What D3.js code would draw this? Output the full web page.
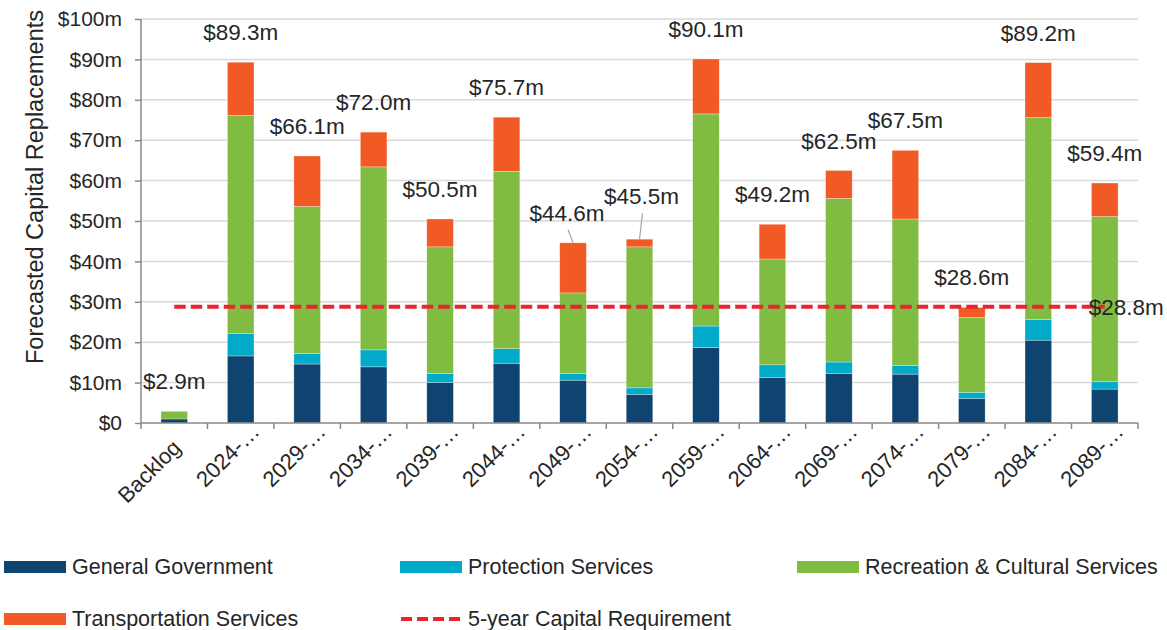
<!DOCTYPE html>
<html>
<head>
    <title>Forecasted Capital Replacements</title>
    <meta charset="utf-8" />
    <style>
        body { margin: 0; background: #fff; }
        text { font-family: "Liberation Sans", Arial, sans-serif; fill: #262626; }
        .grid line { stroke: #d9d9d9; stroke-width: 1.5px; }
        .axis path, .axis line { stroke: #898989; stroke-width: 1.5px; }
    </style>
</head>
<body>
<script src="https://cdn.jsdelivr.net/npm/d3@7"></script>
<script>
// chart values
var categories = ["Backlog", "2024-\u2026", "2029-\u2026", "2034-\u2026", "2039-\u2026", "2044-\u2026", "2049-\u2026",
    "2054-\u2026", "2059-\u2026", "2064-\u2026", "2069-\u2026", "2074-\u2026", "2079-\u2026", "2084-\u2026", "2089-\u2026"];
var generalGovernment      = [1.0, 16.6, 14.6, 13.9, 10.0, 14.8, 10.6, 7.1, 18.7, 11.3, 12.3, 12.1, 6.1, 20.5, 8.4];
var protectionServices     = [0.0, 5.5, 2.6, 4.2, 2.3, 3.6, 1.6, 1.6, 5.3, 3.1, 2.8, 2.1, 1.5, 5.1, 1.8];
var recreationServices     = [1.9, 54.0, 36.4, 45.3, 31.3, 43.9, 20.0, 34.9, 52.5, 26.2, 40.5, 36.3, 18.5, 50.0, 40.9];
var transportationServices = [0.0, 13.2, 12.5, 8.6, 6.9, 13.4, 12.4, 1.9, 13.6, 8.6, 6.9, 17.0, 2.5, 13.6, 8.3];
var capitalRequirement = 28.8;
var yTicks = [0, 10, 20, 30, 40, 50, 60, 70, 80, 90, 100];

var seriesNames = ["General Government", "Protection Services", "Recreation & Cultural Services", "Transportation Services"];
var seriesColors = ["#0f4470", "#00aac8", "#80bc42", "#f15a24"];
var reqName = "5-year Capital Requirement";
var reqColor = "#e8262c";

var width = 1167, height = 630;
var plotLeft = 141, plotRight = 1138, plotTop = 19, plotBottom = 423;

var rows = categories.map(function(c, i) {
    return { cat: c, g: generalGovernment[i], p: protectionServices[i], r: recreationServices[i], t: transportationServices[i] };
});
var stack = d3.stack().keys(["g", "p", "r", "t"]);
var layers = stack(rows);

var x = d3.scaleBand().domain(categories).range([plotLeft, plotRight]).paddingInner(0.6).paddingOuter(0.3);
var xb = d3.scaleBand().domain(categories).range([plotLeft, plotRight]); // full bands, for ticks
var y = d3.scaleLinear().domain([0, 100]).range([plotBottom, plotTop]);

var svg = d3.select("body").append("svg")
    .attr("width", width)
    .attr("height", height);

// gridlines
svg.append("g").attr("class", "grid")
    .selectAll("line")
    .data(yTicks.filter(function(d) { return d > 0; }))
    .enter().append("line")
    .attr("x1", plotLeft).attr("x2", plotRight)
    .attr("y1", function(d) { return y(d); })
    .attr("y2", function(d) { return y(d); });

// y axis
var yAxis = svg.append("g").attr("class", "axis")
    .attr("transform", "translate(" + plotLeft + ",0)")
    .call(d3.axisLeft(y).tickValues(yTicks).tickSize(6).tickSizeOuter(0)
        .tickFormat(function(d) { return d === 0 ? "$0" : "$" + d + "m"; }));
yAxis.selectAll("text").attr("x", -19).style("font-size", "21px").style("fill", "#262626")
    .style("font-family", "'Liberation Sans', Arial, sans-serif");
yAxis.select(".domain").attr("d", "M0," + y(100) + "V" + y(0));

svg.append("text")
    .attr("transform", "translate(43,187) rotate(-90)")
    .attr("text-anchor", "middle")
    .style("font-size", "23.5px")
    .text("Forecasted Capital Replacements");

// stacked bars
svg.append("g").selectAll("g")
    .data(layers)
    .enter().append("g")
    .attr("fill", function(d, i) { return seriesColors[i]; })
    .selectAll("rect")
    .data(function(d) { return d; })
    .enter().append("rect")
    .attr("x", function(d) { return x(d.data.cat); })
    .attr("width", x.bandwidth())
    .attr("y", function(d) { return y(d[1]); })
    .attr("height", function(d) { return y(d[0]) - y(d[1]); })
    .attr("stroke", "rgba(255,255,255,0.5)")
    .attr("stroke-width", 0.6);

// x axis with ticks between categories
var xa = svg.append("g").attr("class", "axis");
xa.append("line").attr("x1", plotLeft).attr("x2", plotRight).attr("y1", plotBottom).attr("y2", plotBottom);
xa.selectAll(".tk")
    .data(categories.concat([null]))
    .enter().append("line")
    .attr("class", "tk")
    .attr("x1", function(d) { return d ? xb(d) : plotRight; })
    .attr("x2", function(d) { return d ? xb(d) : plotRight; })
    .attr("y1", plotBottom).attr("y2", plotBottom + 6);

xa.selectAll(".xl")
    .data(categories)
    .enter().append("text")
    .attr("class", "xl")
    .attr("text-anchor", "end")
    .style("font-size", "22px")
    .attr("transform", function(d, i) {
        var cx = x(d) + x.bandwidth() / 2;
        var dx = i === 0 ? 8 : 20, yy = i === 0 ? plotBottom + 26 : plotBottom + 10;
        return "translate(" + (cx + dx) + "," + yy + ") rotate(-45)";
    })
    .text(function(d) { return d; });

// requirement line
var reqLine = d3.line()
    .x(function(d) { return x(d) + x.bandwidth() / 2; })
    .y(function() { return y(capitalRequirement); });
svg.append("path")
    .datum(categories)
    .attr("d", reqLine)
    .attr("fill", "none")
    .attr("stroke", reqColor)
    .attr("stroke-width", 4)
    .attr("stroke-dasharray", "11.5,5");

var lastCat = categories[categories.length - 1];
svg.append("text")
    .attr("x", x(lastCat) + x.bandwidth() / 2 - 16)
    .attr("y", y(capitalRequirement) + 8)
    .style("font-size", "22.5px")
    .text("$" + d3.format(".1f")(capitalRequirement) + "m");

// total labels
var fmt = d3.format(".1f");
var nudge = { 6: [-6, 0], 7: [2, -13] };
var labels = svg.append("g");
rows.forEach(function(d, i) {
    var total = d.g + d.p + d.r + d.t;
    var cx = x(d.cat) + x.bandwidth() / 2;
    var n = nudge[i] || [0, 0];
    var lx = cx + n[0], ly = y(total) - 22 + n[1];
    labels.append("text")
        .attr("x", lx).attr("y", ly)
        .attr("text-anchor", "middle")
        .style("font-size", "22.5px")
        .text("$" + fmt(total) + "m");
    if (nudge[i]) {
        labels.append("line")
            .attr("x1", lx + 1).attr("y1", ly + 9)
            .attr("x2", cx).attr("y2", y(total))
            .attr("stroke", "#a6a6a6").attr("stroke-width", 1.2);
    }
});

// legend
var legendItems = seriesNames.map(function(n, i) { return { name: n, color: seriesColors[i], dash: false }; });
legendItems.push({ name: reqName, color: reqColor, dash: true });
var legendCols = [4, 400, 797], legendRows = [567, 619];
var lg = svg.append("g").selectAll("g")
    .data(legendItems)
    .enter().append("g")
    .attr("transform", function(d, i) {
        return "translate(" + legendCols[i % 3] + "," + legendRows[Math.floor(i / 3)] + ")";
    });
lg.filter(function(d) { return !d.dash; }).append("rect")
    .attr("x", 0).attr("y", -6).attr("width", 62).attr("height", 12)
    .attr("fill", function(d) { return d.color; });
lg.filter(function(d) { return d.dash; }).append("line")
    .attr("x1", 1).attr("x2", 62).attr("y1", 0).attr("y2", 0)
    .attr("stroke", function(d) { return d.color; })
    .attr("stroke-width", 4)
    .attr("stroke-dasharray", "11,5");
lg.append("text")
    .attr("x", 68).attr("y", 7)
    .style("font-size", "21.5px")
    .text(function(d) { return d.name; });
</script>
</body>
</html>
